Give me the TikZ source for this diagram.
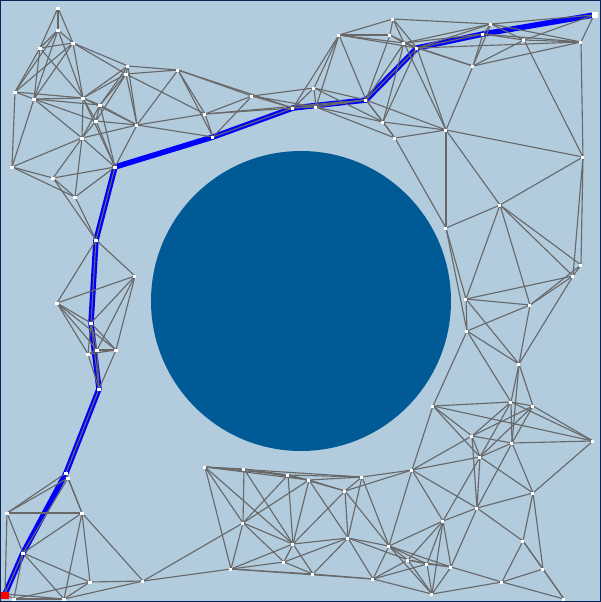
\documentclass[tikz,border=0pt]{standalone}
\usepackage{xcolor}
\usepackage{tikz}
\usetikzlibrary{calc}
\definecolor{skyfield}{RGB}{178,204,222}
\definecolor{obstacle}{RGB}{0,90,150}
\definecolor{edgegray}{RGB}{104,104,104}
\definecolor{frameblue}{RGB}{8,36,88}
\tikzset{
    sample/.style={rectangle, fill=white, inner sep=0pt, minimum size=0.03cm},
    startbox/.style={rectangle, fill=red, inner sep=0pt, minimum size=0.07cm},
    goalbox/.style={rectangle, fill=white, inner sep=0pt, minimum size=0.06cm},
    roadedge/.style={draw=edgegray, line width=0.32pt},
    route/.style={draw=blue, line width=0.055cm, line join=round, line cap=round},
}
% index/x/y/reach (pixels, y downwards)
\newcommand\samples{1/58/8/90,2/58/30/78,3/73/43/63,4/40/48/70,5/15/92/80,6/34/99/70,
7/83/98/56,8/100/105/60,9/128/66/60,10/126/74/60,11/178/70/85,12/137/125/70,
13/96/121/60,14/82/138/60,15/12/167/80,16/115/167/80,17/53/178/70,18/75/197/70,
19/205/114/90,20/213/137/100,21/252/96/80,22/293/108/90,23/316/107/80,24/314/88/80,
25/366/100/75,26/339/35/75,27/393/19/70,28/390/35/75,29/383/122/85,30/395/138/90,
31/404/43/75,32/417/48/85,33/483/34/85,34/491/24/100,35/524/40/80,36/581/42/115,
37/594/15/110,38/473/66/75,39/446/130/100,40/583/157/140,
41/96/240/85,42/135/276/90,43/57/303/90,44/91/323/85,45/88/354/70,46/97/350/70,
47/116/350/80,48/99/389/92,
49/446/228/110,50/500/205/105,51/581/265/110,52/573/276/110,53/466/299/90,
54/530/305/90,55/467/331/95,56/519/364/85,
57/66/473/90,58/68/478/90,59/7/513/85,60/82/513/90,61/23/553/75,62/90/582/80,
63/143/581/115,64/5/594/85,65/14/599/80,66/64/599/85,
67/205/467/120,68/244/469/90,69/288/475/85,70/309/480/80,71/345/491/75,72/362/477/80,
73/243/523/75,74/293/544/75,75/348/538/65,76/389/546/75,77/231/569/90,78/284/562/75,
79/313/574/75,80/373/579/70,
81/433/406/85,82/511/402/80,83/533/406/80,84/593/441/100,85/472/436/75,86/512/443/70,
87/480/457/75,88/412/470/85,89/533/493/80,90/477/508/75,91/443/521/70,92/523/541/75,
93/427/564/60,94/408/560/60,95/451/567/65,96/543/569/85,97/502/582/75,98/432/594/75,
99/564/599/80}
\begin{document}
\begin{tikzpicture}[x=0.01cm, y=-0.01cm]
    \useasboundingbox (0,0) rectangle (601,602);
    \fill[skyfield] (0,0) rectangle (601,602);
    \fill[obstacle] (301,301) circle [radius=150];

    \foreach \k/\px/\py/\rr in \samples {
        \coordinate (s\k) at (\px,\py);
    }

    \draw[route] (s64) -- (s61) -- (s57) -- (s48) -- (s44) -- (s41) -- (s16) -- (s20)
        -- (s22) -- (s25) -- (s32) -- (s33) -- (s37);

    \foreach \i/\xa/\ya/\ra in \samples {
        \foreach \j/\xb/\yb/\rb in \samples {
            \ifnum\j>\i\relax
                \pgfmathsetmacro\segx{(\xb-\xa)/100}
                \pgfmathsetmacro\segy{(\yb-\ya)/100}
                \pgfmathtruncatemacro\nearby{veclen(\segx,\segy)*100<max(\ra,\rb)}
                \ifnum\nearby=1
                    \pgfmathsetmacro\tpar{max(0,min(1,((3.01-\xa/100)*\segx+(3.01-\ya/100)*\segy)/(\segx*\segx+\segy*\segy)))}
                    \pgfmathsetmacro\gap{veclen(3.01-\xa/100-\tpar*\segx,3.01-\ya/100-\tpar*\segy)}
                    \pgfmathtruncatemacro\clearok{\gap>1.52}
                    \ifnum\clearok=1
                        \draw[roadedge] (s\i) -- (s\j);
                    \fi
                \fi
            \fi
        }
    }
    \foreach \a/\b in {67/72, 77/80, 63/73, 81/84, 11/22, 19/25, 32/36} {
        \draw[roadedge] (s\a) -- (s\b);
    }

    \foreach \k/\px/\py/\rr in \samples {
        \node[sample] (d\k) at (s\k) {};
    }
    \node[startbox] (start) at (5,595) {};
    \node[goalbox] (goal) at (595,15) {};

    \draw[frameblue, line width=0.012cm] (0.6,0.6) rectangle (600.4,601.4);
\end{tikzpicture}
\end{document}
